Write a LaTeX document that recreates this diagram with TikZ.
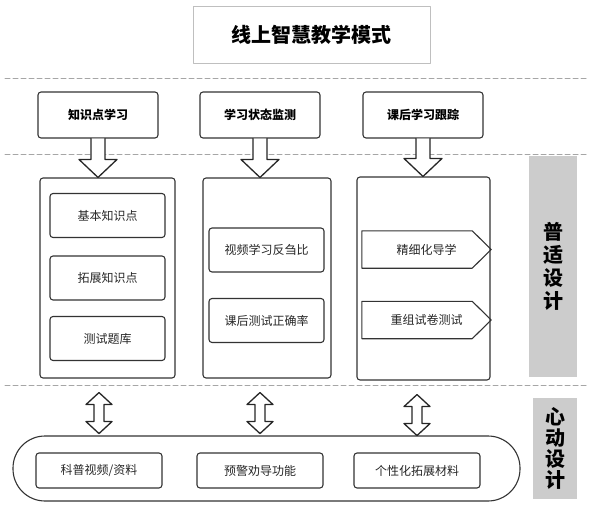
\documentclass[tikz,border=0pt]{standalone}
\usepackage{fontspec}
\setmainfont{Noto Sans CJK SC}
\usetikzlibrary{calc}
\begin{document}
\begin{tikzpicture}[x=1pt, y=-1pt, line join=round, line cap=round,
	frame/.style={draw=black!80, line width=1.1pt, rounded corners=3pt, inner sep=0pt},
	topbox/.style={frame, minimum width=120, minimum height=46, font=\fontsize{12}{14}\selectfont\bfseries},
	colbox/.style={frame, minimum height=200},
	item/.style={frame, minimum width=115, minimum height=44, font=\fontsize{12}{14}\selectfont, text=black!85},
	sig/.style={inner sep=0pt, minimum width=129, minimum height=37, font=\fontsize{12}{14}\selectfont, text=black!85},
	pent/.style={draw=black!80, line width=1.1pt},
	band/.style={fill=black!20, inner sep=0pt, align=center, font=\fontsize{20}{23}\selectfont\bfseries},
	hollow/.style={draw=black!85, fill=white, line width=1.3pt},
	sep/.style={draw=black!35, line width=1pt, dash pattern=on 5pt off 3pt}]
	\useasboundingbox (0,0) rectangle (592,506);
	% dashed separators
	\foreach \y in {78,154,385} \draw[sep] (5,\y)--(588,\y);
	\node[draw=black!25, line width=1pt, minimum width=237, minimum height=57, font=\fontsize{20}{24}\selectfont\bfseries] (title) at (311.5,34.5) {线上智慧教学模式};
	\node[topbox] (top1) at (98,115) {知识点学习};
	\node[topbox] (top2) at (260,115) {学习状态监测};
	\node[topbox] (top3) at (423,115) {课后学习跟踪};
	\node[colbox, minimum width=135] (col1) at (107.5,278) {};
	\node[colbox, minimum width=128] (col2) at (267,278) {};
	\node[colbox, minimum width=133, minimum height=203] (col3) at (423.5,278.5) {};
	\node[item] (c11) at (107.5,215.5) {基本知识点};
	\node[item] (c12) at (107.5,278) {拓展知识点};
	\node[item] (c13) at (107.5,338.5) {测试题库};
	\node[item] (c21) at (266.5,250) {视频学习反刍比};
	\node[item] (c22) at (266.5,320.5) {课后测试正确率};
	\node[sig] (c31) at (426.5,249.5) {精细化导学};
	\node[sig] (c32) at (426.5,320) {重组试卷测试};
	\foreach \n in {c31,c32}
		\draw[pent] (\n.north west) -- ($(\n.north east)+(-19,0)$) -- (\n.east) -- ($(\n.south east)+(-19,0)$) -- (\n.south west) -- cycle;
	\node[band, minimum width=48, minimum height=221] (pu) at (553,266.5) {普\\适\\设\\计};
	\node[band, minimum width=44, minimum height=101, font=\fontsize{20}{21}\selectfont\bfseries] (xin) at (555,448.5) {心\\动\\设\\计};
	\node[frame, rounded corners=32pt, minimum width=507, minimum height=65] (all) at (266.5,468.5) {};
	\node[item, minimum width=126, minimum height=35] (b1) at (99,470.5) {科普视频/资料};
	\node[item, minimum width=126, minimum height=35] (b2) at (260,470.5) {预警劝导功能};
	\node[item, minimum width=126, minimum height=35] (b3) at (417,470.5) {个性化拓展材料};
	% block arrows
	\foreach \a/\c in {top1/col1,top2/col2,top3/col3}
		\draw[hollow] ($(\a.south)+(-7,0)$) -- ($(\a.south |- \c.north)+(-7,-18)$) -- ++(-12,0) -- (\a.south |- \c.north) -- ++(19,-18) -- ++(-12,0) -- ($(\a.south)+(7,0)$);
	\foreach \c/\b in {col1/b1,col2/b2,col3/b3}
		\draw[hollow] ($(\b.north |- \c.south)+(0,14)$) -- ++(13,12) -- ++(-8,0) -- ++(0,17) -- ++(8,0) -- ++(-13,12) -- ++(-13,-12) -- ++(8,0) -- ++(0,-17) -- ++(-8,0) -- cycle;
\end{tikzpicture}
\end{document}
